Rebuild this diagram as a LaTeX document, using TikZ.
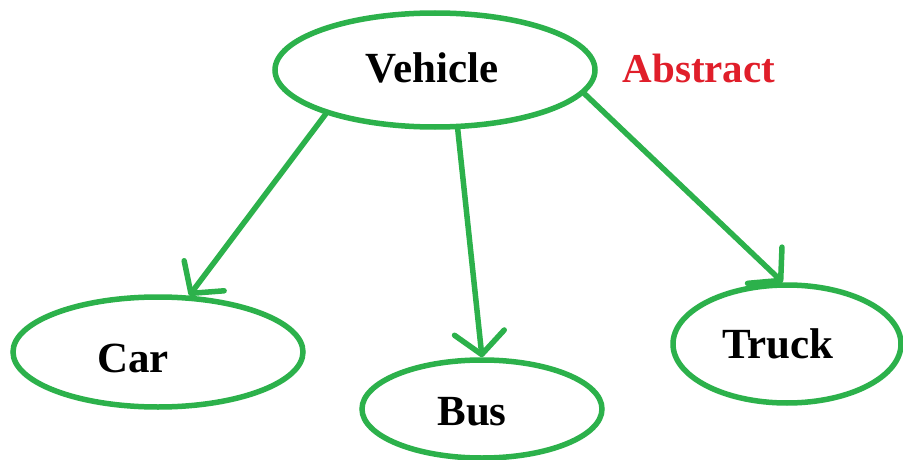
\documentclass[tikz,border=0pt]{standalone}
\usepackage{fontspec}
\setmainfont{Liberation Serif}
\usetikzlibrary{shapes.geometric,arrows.meta}
\definecolor{linegreen}{RGB}{44,177,75}
\definecolor{tagred}{RGB}{224,30,42}
\tikzset{
  oval/.style={ellipse, draw=linegreen, line width=5.5pt, inner sep=0pt},
  lbl/.style={anchor=base, inner sep=0pt, font=\fontsize{43}{50}\selectfont\bfseries},
  link/.style={draw=linegreen, line width=5.5pt, line cap=round,
    -{Straight Barb[length=22pt,width=50pt,line width=5.5pt,round]}},
}
\begin{document}
\begin{tikzpicture}[x=1pt,y=-1pt]
  \useasboundingbox (0,0) rectangle (903,460);
  \fill[white] (0,0) rectangle (903,460);

  % class ovals
  \node[oval, minimum width=320pt, minimum height=114pt] (veh) at (435,70) {};
  \node[oval, minimum width=290pt, minimum height=110pt] (car) at (158,352) {};
  \node[oval, minimum width=240pt, minimum height=98pt] (bus) at (482,409) {};
  \node[oval, minimum width=228pt, minimum height=118pt] (truck) at (787,344) {};

  % names
  \node[lbl] (vehname) at (432,82) {Vehicle};
  \node[lbl] (carname) at (133,372) {Car};
  \node[lbl] (busname) at (472,425) {Bus};
  \node[lbl] (truckname) at (778,358) {Truck};
  \node[lbl, text=tagred, font=\fontsize{41}{48}\selectfont\bfseries] (tag) at (699,83) {Abstract};

  % inheritance arrows
  \draw[link] (veh.202) -- (car.61);
  \draw[link] (veh.291.6) -- (bus.90);
  \draw[link] (veh.-9.6) -- (truck.94);
\end{tikzpicture}
\end{document}
